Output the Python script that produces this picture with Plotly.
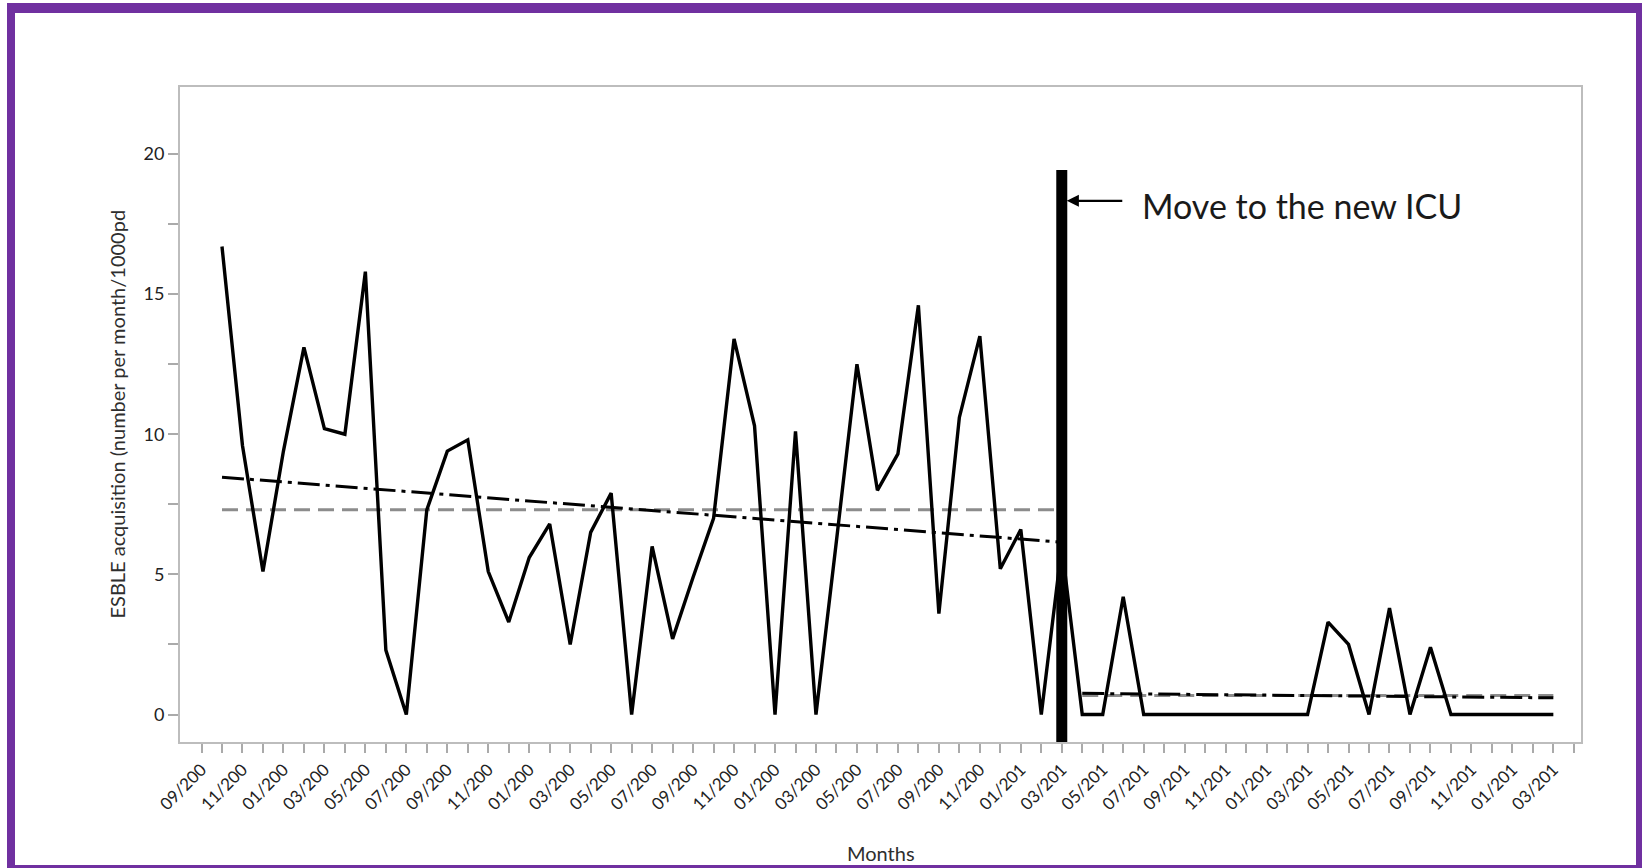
import numpy as np
import plotly.graph_objects as go

# Monthly ESBLE acquisition rate (per month / 1000 patient-days), 10/2006 .. 03/2012
month_index = list(range(1, 67))
esble_rate = [
    16.7, 9.6, 5.1, 9.4, 13.1, 10.2, 10.0, 15.8, 2.3, 0.0,
    7.3, 9.4, 9.8, 5.1, 3.3, 5.6, 6.8, 2.5, 6.5, 7.9,
    0.0, 6.0, 2.7, 4.9, 7.0, 13.4, 10.3, 0.0, 10.1, 0.0,
    6.2, 12.5, 8.0, 9.3, 14.6, 3.6, 10.6, 13.5, 5.2, 6.6,
    0.0, 6.0,
    0.0, 0.0, 4.2, 0.0, 0.0, 0.0, 0.0, 0.0, 0.0, 0.0,
    0.0, 0.0, 3.3, 2.5, 0.0, 3.8, 0.0, 2.4, 0.0, 0.0,
    0.0, 0.0, 0.0, 0.0,
]

# Month of the move to the new ICU (03/2010)
move_index = 42
move_bar_top = 19.43
move_label = "Move to the new ICU"
move_label_y = 18.33

# Axis ticks: one per month from 09/2006, labelled every second month
tick_index = list(range(0, 68))
month_labels = [
    "09/200", "11/200", "01/200", "03/200", "05/200", "07/200", "09/200",
    "11/200", "01/200", "03/200", "05/200", "07/200", "09/200", "11/200",
    "01/200", "03/200", "05/200", "07/200", "09/200", "11/200", "01/201",
    "03/201", "05/201", "07/201", "09/201", "11/201", "01/201", "03/201",
    "05/201", "07/201", "09/201", "11/201", "01/201", "03/201",
]
y_tick_values = [0, 2.5, 5, 7.5, 10, 12.5, 15, 17.5, 20]
y_tick_labels = ["0", "", "5", "", "10", "", "15", "", "20"]

x_title = "Months"
y_title = "ESBLE acquisition (number per month/1000pd"

# ---- derived: period means and linear trends ----
x = np.array(month_index, dtype=float)
y = np.array(esble_rate, dtype=float)
pre = x <= move_index
post = x > move_index

def period_lines(mask):
    xs, ys = x[mask], y[mask]
    mean = ys.mean()
    slope, icpt = np.polyfit(xs, ys, 1)
    ends = np.array([xs[0], xs[-1]])
    return ends, np.array([mean, mean]), ends * slope + icpt

tick_text = []
for i in tick_index:
    tick_text.append(month_labels[i // 2] if i % 2 == 0 else "")

fig = go.Figure()

for mask in (pre, post):
    ends, mean_y, trend_y = period_lines(mask)
    fig.add_trace(go.Scatter(
        x=ends, y=mean_y, mode="lines",
        line=dict(color="#8c8c8c", width=3, dash="16px,8px"),
        hoverinfo="skip", showlegend=False,
    ))
    fig.add_trace(go.Scatter(
        x=ends, y=trend_y, mode="lines",
        line=dict(color="#000000", width=3, dash="22px,6px,4px,6px"),
        hoverinfo="skip", showlegend=False,
    ))

fig.add_trace(go.Scatter(
    x=month_index, y=esble_rate, mode="lines",
    line=dict(color="#000000", width=3.4),
    showlegend=False,
))

# figure geometry (pixels)
W, H = 1643, 868
L, R, T, B = 180, 62, 87, 126
pw, ph = W - L - R, H - T - B

def px(xp):
    return (xp - L) / pw

def py(yp):
    return (H - B - yp) / ph

purple = "#7030a0"
shapes = [
    # bar marking the move
    dict(type="line", xref="x", yref="y", x0=move_index, x1=move_index,
         y0=-0.98, y1=move_bar_top, line=dict(color="black", width=11),
         layer="above"),
    # purple page frame
    dict(type="rect", xref="paper", yref="paper", x0=px(7), x1=px(1642),
         y0=py(3), y1=py(13), fillcolor=purple, line_width=0, layer="above"),
    dict(type="rect", xref="paper", yref="paper", x0=px(7), x1=px(15),
         y0=py(3), y1=py(868), fillcolor=purple, line_width=0, layer="above"),
    dict(type="rect", xref="paper", yref="paper", x0=px(1636), x1=px(1642),
         y0=py(3), y1=py(868), fillcolor=purple, line_width=0, layer="above"),
    dict(type="rect", xref="paper", yref="paper", x0=px(7), x1=px(1642),
         y0=py(865), y1=py(868), fillcolor=purple, line_width=0, layer="above"),
]

annotations = [
    dict(x=move_index, y=move_label_y, xref="x", yref="y", text="",
         showarrow=True, arrowhead=2, arrowsize=1.1, arrowwidth=2.2,
         arrowcolor="black", ax=62, ay=0, standoff=5),
    dict(x=45.8, y=move_label_y - 0.15, xref="x", yref="y", text=move_label,
         showarrow=False, xanchor="left", yanchor="middle",
         font=dict(family="Lato", size=34, color="#1a1a1a")),
    dict(x=px(116), y=0.5, xref="paper", yref="paper", text=y_title,
         showarrow=False, textangle=-90, xanchor="center", yanchor="middle",
         font=dict(family="Lato", size=20, color="#2e2e2e")),
    dict(x=0.5, y=py(853), xref="paper", yref="paper", text=x_title,
         showarrow=False, xanchor="center", yanchor="middle",
         font=dict(family="Lato", size=20, color="#2e2e2e")),
]

fig.update_layout(
    width=W, height=H,
    margin=dict(l=L, r=R, t=T, b=B, pad=0),
    paper_bgcolor="white", plot_bgcolor="white",
    shapes=shapes, annotations=annotations,
    showlegend=False,
)
fig.update_xaxes(
    range=[-1.05, 67.35], tickmode="array", tickvals=tick_index,
    ticktext=tick_text, tickangle=-45, ticks="outside", ticklen=9,
    tickcolor="#aaaaaa", tickwidth=1.5,
    tickfont=dict(family="Lato", size=17, color="#222222"),
    showgrid=False, zeroline=False, showline=True, mirror=True,
    linecolor="#bdbdbd", linewidth=2,
)
fig.update_yaxes(
    range=[-0.98, 22.39], tickmode="array", tickvals=y_tick_values,
    ticktext=y_tick_labels, ticks="outside", ticklen=10,
    tickcolor="#aaaaaa", tickwidth=1.5,
    tickfont=dict(family="Lato", size=18, color="#222222"),
    showgrid=False, zeroline=False, showline=True, mirror=True,
    linecolor="#bdbdbd", linewidth=2,
)

fig.write_html("out.html")
